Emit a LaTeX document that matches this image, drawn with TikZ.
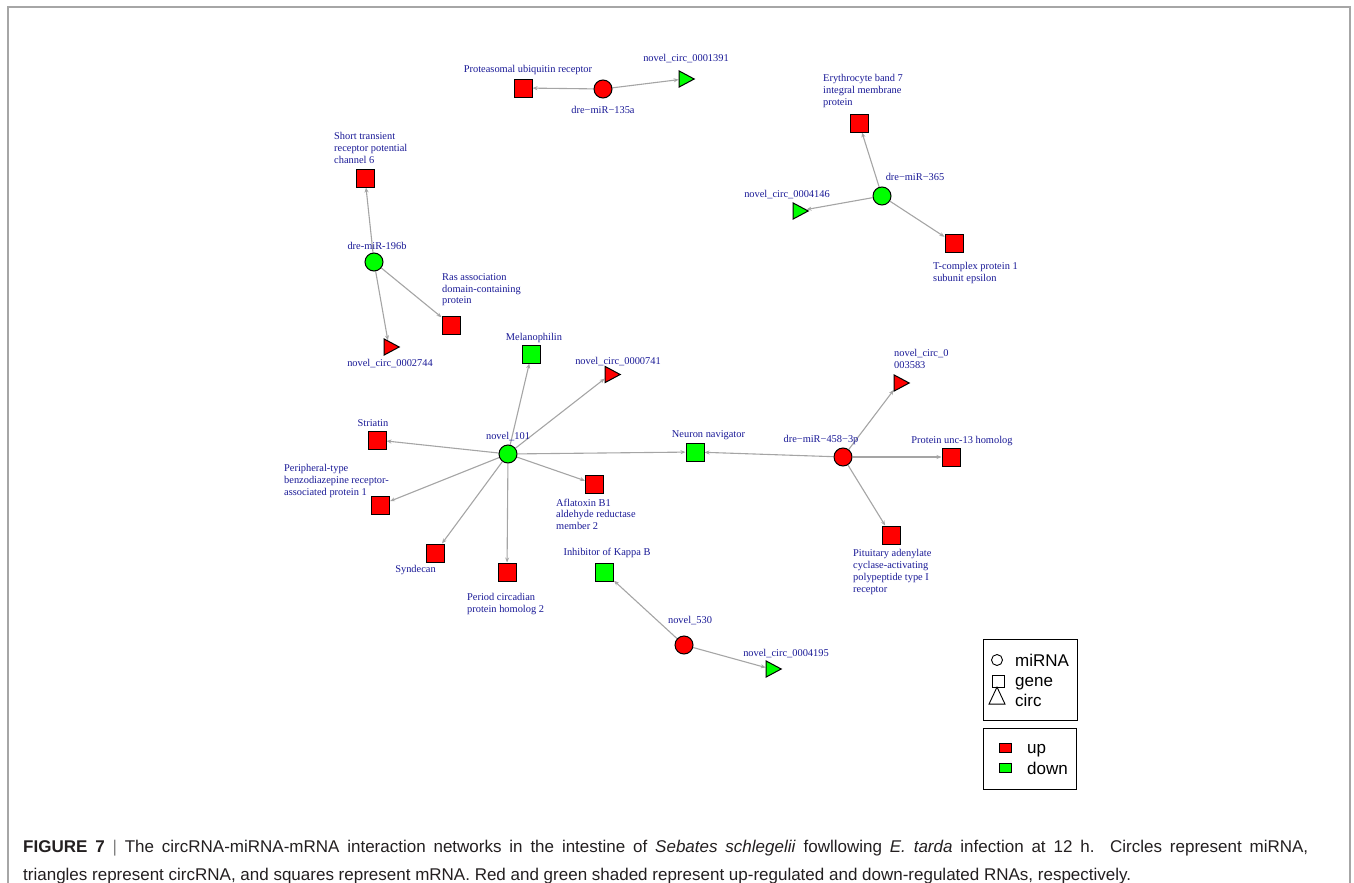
\documentclass[tikz,border=0pt]{standalone}
\usepackage{fontspec}
\setmainfont{Liberation Serif}
\newfontfamily\capfont{Liberation Sans}
\usetikzlibrary{shapes.geometric,arrows.meta,backgrounds}
\definecolor{lab}{RGB}{25,25,150}
\definecolor{edgec}{RGB}{165,165,165}
\definecolor{upc}{RGB}{255,0,0}
\definecolor{dnc}{RGB}{0,255,0}
\definecolor{capc}{RGB}{35,31,32}
\begin{document}
\begin{tikzpicture}[x=1pt,y=-1pt,
 sq/.style={draw, line width=1pt, minimum size=18pt, inner sep=0pt},
 mi/.style={draw, circle, line width=1pt, minimum size=18pt, inner sep=0pt},
 ci/.style={draw, isosceles triangle, isosceles triangle stretches, minimum width=16pt, minimum height=15pt, inner sep=0pt, line width=1pt},
 lb/.style={text=lab, font=\fontsize{10.4}{11.7}\selectfont, inner sep=0pt, anchor=base},
 lbl/.style={lb, align=left, anchor=north west},
 ed/.style={draw=edgec, line width=1.1pt, -{Stealth[length=5pt,width=4pt]}},
 lgt/.style={font=\capfont\fontsize{17}{20}\selectfont, inner sep=0pt, anchor=base west},
 capt/.style={font=\capfont\fontsize{17}{20}\selectfont, text=capc, inner sep=0pt, anchor=base west},
]
\useasboundingbox (0,0) rectangle (1354,883);
\draw[black!35, line width=1.2pt] (8,883) -- (8,7) -- (1350,7) -- (1350,883);

% nodes
\node[sq, fill=upc] (prot) at (523,88) {};
\node[mi, fill=upc] (m135) at (603,89) {};
\node[ci, fill=dnc] (c1391) at (684,79) {};

\node[sq, fill=upc] (strp) at (365,178) {};
\node[mi, fill=dnc] (m196) at (374,262) {};
\node[sq, fill=upc] (ras) at (451,325) {};
\node[ci, fill=upc] (c2744) at (389,347) {};

\node[sq, fill=upc] (ery) at (859,123) {};
\node[mi, fill=dnc] (m365) at (882,196) {};
\node[ci, fill=dnc] (c4146) at (798,211) {};
\node[sq, fill=upc] (tcp) at (954,243) {};

\node[sq, fill=dnc] (mel) at (531.5,354) {};
\node[ci, fill=upc] (c0741) at (610,374.5) {};
\node[mi, fill=dnc] (n101) at (508,454) {};
\node[sq, fill=upc] (stri) at (377,440) {};
\node[sq, fill=upc] (peri) at (380.5,505) {};
\node[sq, fill=upc] (synd) at (435,553) {};
\node[sq, fill=upc] (peri2) at (507,572) {};
\node[sq, fill=upc] (afla) at (594.5,484) {};
\node[sq, fill=dnc] (neur) at (695,452) {};
\node[mi, fill=upc] (m458) at (843,457) {};
\node[ci, fill=upc] (c3583) at (899,383) {};
\node[sq, fill=upc] (unc) at (951,457) {};
\node[sq, fill=upc] (pitu) at (891,535) {};
\node[sq, fill=dnc] (ikb) at (604.5,572) {};
\node[mi, fill=upc] (n530) at (684,645) {};
\node[ci, fill=dnc] (c4195) at (771,669) {};

% edges
\begin{pgfonlayer}{background}
\draw[ed] (m135) -- (prot);
\draw[ed] (m135) -- (c1391);
\draw[ed] (m196) -- (strp);
\draw[ed] (m196) -- (ras);
\draw[ed] (m196) -- (c2744);
\draw[ed] (m365) -- (ery);
\draw[ed] (m365) -- (c4146);
\draw[ed] (m365) -- (tcp);
\draw[ed] (n101) -- (mel);
\draw[ed] (n101) -- (c0741);
\draw[ed] (n101) -- (stri);
\draw[ed] (n101) -- (peri);
\draw[ed] (n101) -- (synd);
\draw[ed] (n101) -- (peri2);
\draw[ed] (n101) -- (afla);
\draw[ed] (n101) -- (neur);
\draw[ed] (m458) -- (neur);
\draw[ed] (m458) -- (c3583);
\draw[ed] (m458) -- (unc);
\draw[ed] (m458) -- (pitu);
\draw[ed] (n530) -- (ikb);
\draw[ed] (n530) -- (c4195);
\end{pgfonlayer}

% labels
\node[lb] (lprot) at (528,72.5) {Proteasomal ubiquitin receptor};
\node[lb] (lm135) at (603,113.5) {dre−miR−135a};
\node[lb] (lc1391) at (686,61.5) {novel\_circ\_0001391};
\node[lb] (lm196) at (377,249.5) {dre-miR-196b};
\node[lb] (lc2744) at (390,366.5) {novel\_circ\_0002744};
\node[lb] (lm365) at (915,180.5) {dre−miR−365};
\node[lb] (lc4146) at (787,197.5) {novel\_circ\_0004146};
\node[lb] (lmel) at (534,340.5) {Melanophilin};
\node[lb] (lc0741) at (618,364.5) {novel\_circ\_0000741};
\node[lb] (lstri) at (373,426.5) {Striatin};
\node[lb] (ln101) at (508,439.5) {novel\_101};
\node[lb] (lsynd) at (415.5,572.5) {Syndecan};
\node[lb] (likb) at (607,555.5) {Inhibitor of Kappa B};
\node[lb] (lneur) at (708.5,437.5) {Neuron navigator};
\node[lb] (lm458) at (821,442.5) {dre−miR−458−3p};
\node[lb] (lunc) at (962,443.5) {Protein unc-13 homolog};
\node[lb] (ln530) at (690,623.5) {novel\_530};
\node[lb] (lc4195) at (786,656.5) {novel\_circ\_0004195};

\node[lbl] (lstrp) at (334,132.5) {Short transient\\receptor potential\\channel 6};
\node[lbl] (lras) at (442,273.5) {Ras association\\domain-containing\\protein};
\node[lbl] (lery) at (823,74.5) {Erythrocyte band 7\\integral membrane\\protein};
\node[lbl] (ltcp) at (933,262.5) {T-complex protein 1\\subunit epsilon};
\node[lbl] (lperi) at (284,464.5) {Peripheral-type\\benzodiazepine receptor-\\associated protein 1};
\node[lbl] (lafla) at (556,498.5) {Aflatoxin B1\\aldehyde reductase\\member 2};
\node[lbl] (lperi2) at (467,593.5) {Period circadian\\protein homolog 2};
\node[lbl] (lc3583) at (894,349.5) {novel\_circ\_0\\003583};
\node[lbl] (lpitu) at (853,549.5) {Pituitary adenylate\\cyclase-activating\\polypeptide type I\\receptor};

% legend
\node[draw, line width=1pt, minimum width=94pt, minimum height=81pt, inner sep=0pt] (box1) at (1030,679.5) {};
\node[draw, line width=1pt, minimum width=93pt, minimum height=61pt, inner sep=0pt] (box2) at (1029.5,758.5) {};
\node[draw, circle, line width=0.9pt, minimum size=11pt, inner sep=0pt] (lgc) at (997,660) {};
\node[draw, line width=0.9pt, minimum size=11.5pt, inner sep=0pt] (lgs) at (998.5,681.5) {};
\node[draw, isosceles triangle, isosceles triangle stretches, shape border rotate=90, minimum width=16pt, minimum height=17pt, inner sep=0pt, line width=0.9pt] (lgt) at (997,699) {};
\node[lgt] (lgt1) at (1015,666.5) {miRNA};
\node[lgt] (lgt2) at (1015,686.5) {gene};
\node[lgt] (lgt3) at (1015,706.5) {circ};
\node[draw, fill=upc, line width=0.9pt, minimum width=12pt, minimum height=9pt, inner sep=0pt] (lgu) at (1005,747.5) {};
\node[draw, fill=dnc, line width=0.9pt, minimum width=12pt, minimum height=9pt, inner sep=0pt] (lgd) at (1005,768) {};
\node[lgt] (lgt4) at (1027,753) {up};
\node[lgt] (lgt5) at (1027,774) {down};

% caption
\node[capt] (cap1) at (23,852) {\makebox[1285pt][s]{\textbf{FIGURE 7} {\color{black!50}|} The circRNA-miRNA-mRNA interaction networks in the intestine of \textit{Sebates schlegelii} fowllowing \textit{E. tarda} infection at 12 h. Circles represent miRNA,}};
\node[capt] (cap2) at (23,880) {triangles represent circRNA, and squares represent mRNA. Red and green shaded represent up-regulated and down-regulated RNAs, respectively.};
\end{tikzpicture}
\end{document}
